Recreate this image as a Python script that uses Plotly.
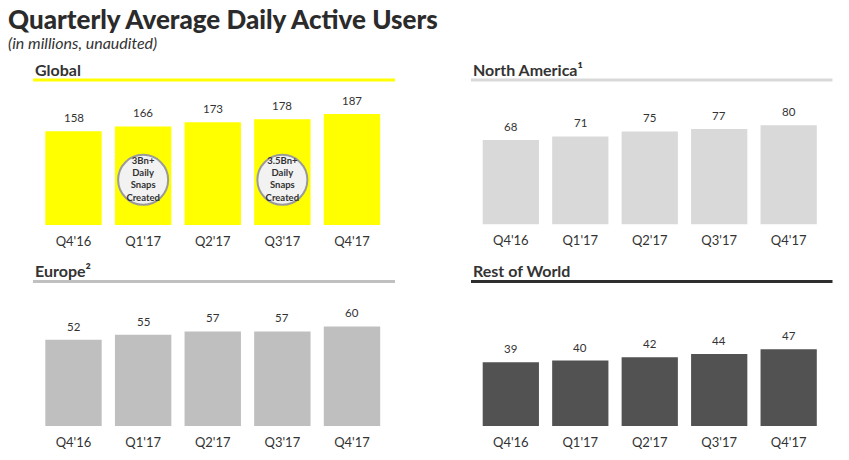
import plotly.graph_objects as go

# Données (en millions, non auditées)
quarters = ["Q4'16", "Q1'17", "Q2'17", "Q3'17", "Q4'17"]
global_dau = [158, 166, 173, 178, 187]
north_america_dau = [68, 71, 75, 77, 80]
europe_dau = [52, 55, 57, 57, 60]
rest_of_world_dau = [39, 40, 42, 44, 47]

callout_quarters = ["Q1'17", "Q3'17"]
callout_texts = ["3Bn+<br>Daily<br>Snaps<br>Created", "3.5Bn+<br>Daily<br>Snaps<br>Created"]

# la page ajoute une marge de 8 px autour de la figure
OFF = 8
W, H = 849 - 2 * OFF, 460 - 2 * OFF
FONT = "Lato"
TEXT = "#333333"


def fx(p):
    return (p - OFF) / W


def fy(p):
    return 1 - (p - OFF) / H


# nom, valeurs, couleur barres, couleur filet, domaine x (px), bas (px), px par unité
panels = [
    ("Global", global_dau, "#ffff00", "#ffff00", (38.7, 386.8), 225, 0.594),
    ("North America¹", north_america_dau, "#d9d9d9", "#d9d9d9", (476.1, 823.4), 224.5, 1.241),
    ("Europe²", europe_dau, "#bfbfbf", "#c0c0c0", (38.7, 386.8), 426, 1.66),
    ("Rest of World", rest_of_world_dau, "#525252", "#2e2e2e", (476.1, 823.4), 426, 1.635),
]

fig = go.Figure()
layout_axes = {}
annotations = []
shapes = []
PLOT_H = 130  # hauteur de la zone de tracé en px

for i, (name, values, color, rule_color, (x0, x1), bottom, scale) in enumerate(panels, 1):
    suffix = "" if i == 1 else str(i)
    fig.add_trace(go.Bar(
        x=quarters, y=values,
        marker=dict(color=color, line=dict(width=0)),
        width=0.81,
        xaxis="x" + suffix, yaxis="y" + suffix,
        hoverinfo="x+y", showlegend=False,
    ))
    layout_axes["xaxis" + suffix] = dict(
        domain=[fx(x0), fx(x1)], anchor="y" + suffix,
        type="category", showgrid=False, zeroline=False, showline=False,
        ticks="outside", ticklen=4, tickcolor="rgba(0,0,0,0)",
        tickfont=dict(family=FONT, size=13, color=TEXT),
        fixedrange=True,
    )
    layout_axes["yaxis" + suffix] = dict(
        domain=[fy(bottom), fy(bottom - PLOT_H)], anchor="x" + suffix,
        range=[0, PLOT_H / scale], visible=False, fixedrange=True,
    )
    # valeurs au-dessus des barres
    for q, v in zip(quarters, values):
        annotations.append(dict(
            x=q, y=v, xref="x" + suffix, yref="y" + suffix,
            text=str(v), showarrow=False, yanchor="bottom", yshift=5,
            font=dict(family=FONT, size=11.5, color=TEXT),
        ))
    # titre du panneau et filet
    left = 33 if i in (1, 3) else 471
    right = 395 if i in (1, 3) else 832.5
    head_y = 69 if i <= 2 else 270.5
    annotations.append(dict(
        x=fx(left), y=fy(head_y), xref="paper", yref="paper",
        text="<b>%s</b>" % name, showarrow=False,
        xanchor="left", yanchor="middle",
        font=dict(family=FONT, size=16, color=TEXT),
    ))
    shapes.append(dict(
        type="line", xref="paper", yref="paper",
        x0=fx(left), x1=fx(right), y0=fy(head_y + 11), y1=fy(head_y + 11),
        line=dict(color=rule_color, width=3),
    ))

# pastilles sur les barres globales
CALLOUT_Y = 76
fig.add_trace(go.Scatter(
    x=callout_quarters, y=[CALLOUT_Y] * len(callout_quarters),
    mode="markers+text", text=["<b>%s</b>" % t for t in callout_texts],
    textposition="middle center",
    textfont=dict(family=FONT, size=9.5, color=TEXT),
    marker=dict(size=50, color="#f2f2f2", line=dict(color="#9a9a9a", width=2)),
    xaxis="x", yaxis="y", hoverinfo="skip", showlegend=False, cliponaxis=False,
))

annotations.append(dict(
    x=fx(7), y=fy(18.5), xref="paper", yref="paper",
    text="Quarterly Average Daily Active Users", showarrow=False,
    xanchor="left", yanchor="middle", borderpad=0,
    font=dict(family=FONT, size=26, color="#2b2b2b", weight=900),
))
annotations.append(dict(
    x=fx(7), y=fy(42.5), xref="paper", yref="paper",
    text="<i>(in millions, unaudited)</i>", showarrow=False,
    xanchor="left", yanchor="middle", borderpad=0,
    font=dict(family=FONT, size=16, color=TEXT),
))

fig.update_layout(
    width=W, height=H,
    margin=dict(l=0, r=0, t=0, b=0),
    paper_bgcolor="white", plot_bgcolor="white",
    bargap=0.19,
    annotations=annotations, shapes=shapes,
    **layout_axes,
)

fig.write_html("out.html")
